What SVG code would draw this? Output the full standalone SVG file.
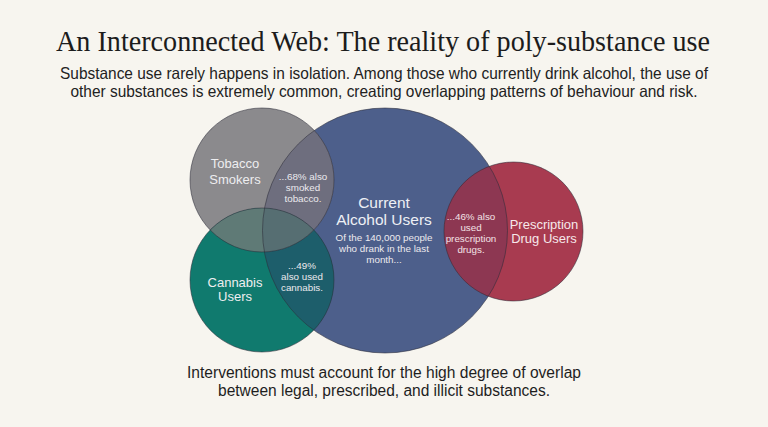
<svg xmlns="http://www.w3.org/2000/svg" width="768" height="427" viewBox="0 0 768 427">
<style>
.title{font-family:"Liberation Serif","DejaVu Serif",serif;font-size:28.5px;fill:#1c1c1c;text-anchor:middle}
.sub{font-family:"Liberation Sans",Arial,sans-serif;font-size:16.5px;fill:#222;text-anchor:middle}
.foot{font-family:"Liberation Sans",Arial,sans-serif;font-size:16px;fill:#1e1e1e;text-anchor:middle}
.lbl{font-family:"Liberation Sans",Arial,sans-serif;font-size:13px;fill:#eeeef0;text-anchor:middle}
.big{font-family:"Liberation Sans",Arial,sans-serif;font-size:15.5px;fill:#eef0f5;text-anchor:middle}
.sm{font-family:"Liberation Sans",Arial,sans-serif;font-size:9.8px;fill:#eceaee;text-anchor:middle}
.edge{fill:none;stroke:#2b2b38;stroke-opacity:0.55;stroke-width:1}
</style>
<defs>
<clipPath id="cBlue"><circle cx="385" cy="230.5" r="122.5"/></clipPath>
<clipPath id="cGray"><circle cx="262" cy="180" r="72"/></clipPath>
<clipPath id="cTeal"><circle cx="262" cy="280" r="72"/></clipPath>
</defs>
<rect width="768" height="427" fill="#f7f5ef"/>
<text class="title" x="383" y="51" textLength="654" lengthAdjust="spacingAndGlyphs">An Interconnected Web: The reality of poly-substance use</text>
<text class="sub" x="384" y="79" textLength="648" lengthAdjust="spacingAndGlyphs">Substance use rarely happens in isolation. Among those who currently drink alcohol, the use of</text>
<text class="sub" x="384" y="97" textLength="627" lengthAdjust="spacingAndGlyphs">other substances is extremely common, creating overlapping patterns of behaviour and risk.</text>

<g id="alcohol">
<circle cx="385" cy="230.5" r="122.5" fill="#4d5f8b"/>
</g>
<g id="tobacco">
<circle cx="262" cy="180" r="72" fill="#8b8a8d"/>
</g>
<g id="cannabis">
<circle cx="262" cy="280" r="72" fill="#107a6e"/>
</g>
<g id="prescription">
<circle cx="513.5" cy="231.5" r="69.5" fill="#a83b50"/>
</g>
<g id="overlaps">
<circle cx="262" cy="180" r="72" fill="#6e6e7e" clip-path="url(#cBlue)"/>
<circle cx="262" cy="280" r="72" fill="#1d5e6b" clip-path="url(#cBlue)"/>
<circle cx="262" cy="280" r="72" fill="#5f7a76" clip-path="url(#cGray)"/>
<g clip-path="url(#cGray)"><circle cx="262" cy="280" r="72" fill="#566e72" clip-path="url(#cBlue)"/></g>
<circle cx="513.5" cy="231.5" r="69.5" fill="#8d3752" clip-path="url(#cBlue)"/>
</g>
<g id="edges">
<circle class="edge" cx="385" cy="230.5" r="122.5"/>
<circle class="edge" cx="262" cy="180" r="72"/>
<circle class="edge" cx="262" cy="280" r="72"/>
<circle class="edge" cx="513.5" cy="231.5" r="69.5"/>
</g>

<g id="labels">
<text class="lbl" x="235" y="168">Tobacco</text>
<text class="lbl" x="235" y="184">Smokers</text>
<text class="sm" x="303" y="180">...68% also</text>
<text class="sm" x="303" y="191">smoked</text>
<text class="sm" x="303" y="202">tobacco.</text>
<text class="big" x="384" y="208">Current</text>
<text class="big" x="384" y="225">Alcohol Users</text>
<text class="sm" x="384" y="241">Of the 140,000 people</text>
<text class="sm" x="384" y="252">who drank in the last</text>
<text class="sm" x="384" y="263">month...</text>
<text class="lbl" x="235" y="287">Cannabis</text>
<text class="lbl" x="235" y="301">Users</text>
<text class="sm" x="302" y="269">...49%</text>
<text class="sm" x="302" y="280">also used</text>
<text class="sm" x="302" y="291">cannabis.</text>
<text class="sm" x="471" y="220" style="fill:#f3e2e6">...46% also</text>
<text class="sm" x="471" y="231" style="fill:#f3e2e6">used</text>
<text class="sm" x="471" y="242" style="fill:#f3e2e6">prescription</text>
<text class="sm" x="471" y="253" style="fill:#f3e2e6">drugs.</text>
<text class="lbl" x="544" y="229" style="fill:#f6e8ea">Prescription</text>
<text class="lbl" x="544" y="243" style="fill:#f6e8ea">Drug Users</text>
</g>

<text class="foot" x="384" y="378" textLength="394" lengthAdjust="spacingAndGlyphs">Interventions must account for the high degree of overlap</text>
<text class="foot" x="384" y="396" textLength="332" lengthAdjust="spacingAndGlyphs">between legal, prescribed, and illicit substances.</text>
</svg>
